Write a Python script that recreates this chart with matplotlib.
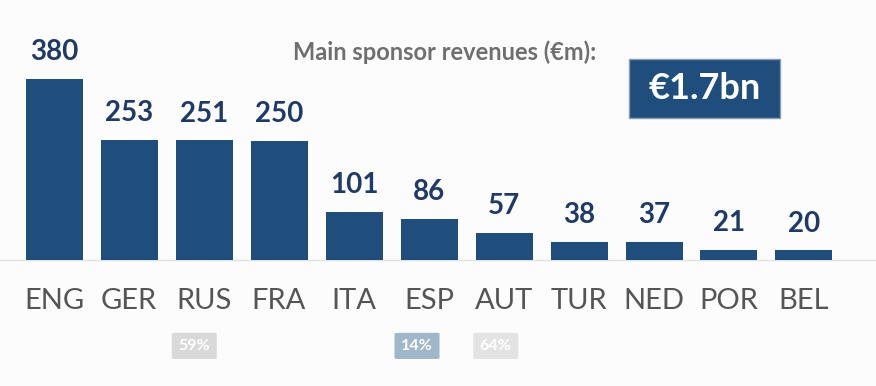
import matplotlib.pyplot as plt
from matplotlib.patches import FancyBboxPatch

plt.rcParams["font.family"] = ["Lato", "DejaVu Sans"]

# Data
countries = ['ENG', 'GER', 'RUS', 'FRA', 'ITA', 'ESP', 'AUT', 'TUR', 'NED', 'POR', 'BEL']
revenues = [380, 253, 251, 250, 101, 86, 57, 38, 37, 21, 20]
badge_pos = [1.87, 4.84, 5.89]
badge_text = ['59%', '14%', '64%']
badge_colors = ['#d9d9d9', '#9fb7c9', '#e3e3e3']

bar_color = '#1f4e7c'
num_color = '#1f3a66'

fig = plt.figure(figsize=(8.76, 3.86), dpi=100)
fig.patch.set_facecolor('#fcfcfc')
ax = fig.add_axes([0, 0, 1, 1])
ax.set_facecolor('#fcfcfc')

# pixel-matched scales: 75 px per category, 0.476 px per EUR m
ax.set_xlim(-0.72, 10.96)
ax.set_ylim(-264.7, 546)
ax.axis('off')

x = range(len(countries))
ax.axhline(0, color='#e2e2e2', lw=1, zorder=1)
bars = ax.bar(x, revenues, width=0.76, color=bar_color, zorder=2)

for xi, v in zip(x, revenues):
    ax.annotate(str(v), (xi, v), xytext=(0, 10), textcoords='offset points',
                ha='center', va='bottom', fontsize=20, fontweight='bold',
                color=num_color)

for xi, c in zip(x, countries):
    ax.text(xi, -86, c, ha='center', va='center', fontsize=21, color='#555555')

# percentage badges
for p, t, col in zip(badge_pos, badge_text, badge_colors):
    box = FancyBboxPatch((p - 0.3, -208), 0.6, 55,
                         boxstyle='round,pad=0,rounding_size=0.05',
                         fc=col, ec='none', mutation_aspect=40)
    ax.add_patch(box)
    ax.text(p, -181, t, ha='center', va='center', fontsize=11.5,
            fontweight='bold', color='white')

ax.text(5.21, 437, 'Main sponsor revenues (\u20acm):', ha='center', va='center',
        fontsize=17, fontweight='bold', color='#6f6f6f')

# total box
ax.add_patch(plt.Rectangle((7.66, 298), 2.02, 124, fc='#1f4e7c', ec='#8a9bb0',
                           lw=1, zorder=3))
ax.text(8.67, 360, '\u20ac1.7bn', ha='center', va='center', fontsize=26,
        fontweight='bold', color='white', zorder=4)

fig.savefig('out.png', dpi=100, facecolor=fig.get_facecolor())
